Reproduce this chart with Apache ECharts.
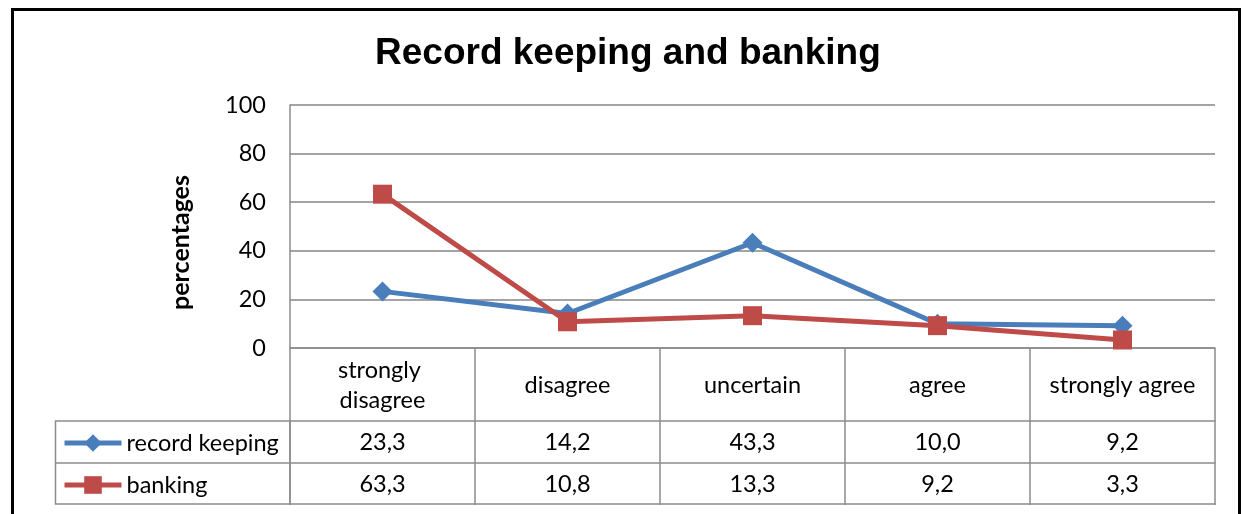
<!DOCTYPE html>
<html>
<head>
<meta charset="utf-8">
<script src="https://cdn.jsdelivr.net/npm/echarts@6/dist/echarts.min.js"></script>
<style>
  html, body { margin: 0; padding: 0; background: #fff; }
  #chart { width: 1243px; height: 514px; }
</style>
</head>
<body>
<div id="chart"></div>
<script>
// * Survey answers (x categories)
const categories = ["strongly disagree", "disagree", "uncertain", "agree", "strongly agree"];
// * Percentages per answer
const recordKeeping = [23.3, 14.2, 43.3, 10.0, 9.2];
const banking = [63.3, 10.8, 13.3, 9.2, 3.3];
// * Value axis ticks
const yTicks = [0, 20, 40, 60, 80, 100];

const blue = "#4a7ebb";
const red = "#be4b48";
const gridColor = "#868686";
const tableColor = "#8c8c8c";
const labelFont = "Lato";
const labelSize = 23.5;

// ? Table cells use a decimal comma
const fmt = (v) => v.toFixed(1).replace(".", ",");

const myChart = echarts.init(document.getElementById("chart"));

// * One extra category axis per table row, stacked under the plot
function tableRow(offset, values) {
  return {
    type: "category",
    gridIndex: 0,
    position: "bottom",
    offset: offset,
    data: categories,
    axisLine: { show: true, lineStyle: { color: tableColor, width: 1.5 } },
    axisTick: values ? { show: true, length: 42, interval: 0, lineStyle: { color: tableColor, width: 1.5 } } : { show: false },
    axisLabel: values
      ? {
          show: true,
          interval: 0,
          margin: 21,
          verticalAlign: "middle",
          fontFamily: labelFont,
          fontSize: labelSize,
          color: "#000",
          formatter: (value, index) => fmt(values[index]),
        }
      : { show: false },
    splitLine: { show: false },
  };
}

const option = {
  backgroundColor: "#fff",
  animation: false,
  title: {
    text: "Record keeping and banking",
    left: 370,
    top: 30,
    textStyle: {
      fontFamily: "Liberation Sans",
      fontWeight: "bold",
      fontSize: 37,
      color: "#000",
    },
  },
  legend: {
    orient: "vertical",
    left: 57,
    top: 426,
    itemWidth: 57,
    itemHeight: 22,
    itemGap: 18,
    lineStyle: { width: 5 },
    textStyle: { fontFamily: labelFont, fontSize: labelSize, color: "#000" },
    data: ["record keeping", "banking"],
  },
  grid: {
    left: 290,
    right: 28,
    top: 105,
    bottom: 166,
  },
  xAxis: [
    {
      type: "category",
      data: categories,
      axisLine: { show: true, lineStyle: { color: tableColor, width: 1.5 } },
      axisTick: { show: true, length: 73, interval: 0, lineStyle: { color: tableColor, width: 1.5 } },
      axisLabel: {
        interval: 0,
        margin: 37,
        verticalAlign: "middle",
        width: 164,
        overflow: "break",
        lineHeight: 30,
        fontFamily: labelFont,
        fontSize: labelSize,
        color: "#000",
      },
    },
    tableRow(73, recordKeeping),
    tableRow(115, banking),
    tableRow(156, null),
  ],
  yAxis: {
    type: "value",
    min: yTicks[0],
    max: yTicks[yTicks.length - 1],
    interval: yTicks[1] - yTicks[0],
    name: "percentages",
    nameLocation: "middle",
    nameRotate: 90,
    nameGap: 97,
    nameTextStyle: {
      fontFamily: labelFont,
      fontWeight: "bold",
      fontSize: 25,
      color: "#000",
      padding: [0, 32, 0, 0],
    },
    axisLine: { show: true, lineStyle: { color: tableColor, width: 1.5 } },
    axisTick: { show: false },
    axisLabel: { margin: 24, fontFamily: labelFont, fontSize: labelSize, color: "#000" },
    splitLine: { show: true, lineStyle: { color: gridColor, width: 1.5 } },
  },
  series: [
    {
      name: "record keeping",
      type: "line",
      data: recordKeeping,
      symbol: "diamond",
      symbolSize: 20,
      color: blue,
      lineStyle: { width: 5, color: blue },
      itemStyle: { color: blue },
    },
    {
      name: "banking",
      type: "line",
      data: banking,
      symbol: "rect",
      symbolSize: 19,
      color: red,
      lineStyle: { width: 5, color: red },
      itemStyle: { color: red },
    },
  ],
  graphic: [
    // ! Outer chart frame
    {
      type: "rect",
      shape: { x: 12.5, y: 9.5, width: 1227, height: 520 },
      style: { fill: null, stroke: "#000", lineWidth: 3 },
      silent: true,
    },
    // * Legend column of the data table
    {
      type: "rect",
      shape: { x: 55.5, y: 421, width: 234.5, height: 83 },
      style: { fill: null, stroke: tableColor, lineWidth: 1.5 },
      silent: true,
    },
    {
      type: "line",
      shape: { x1: 55.5, y1: 463, x2: 290, y2: 463 },
      style: { stroke: tableColor, lineWidth: 1.5 },
      silent: true,
    },
  ],
};

myChart.setOption(option);
</script>
</body>
</html>
